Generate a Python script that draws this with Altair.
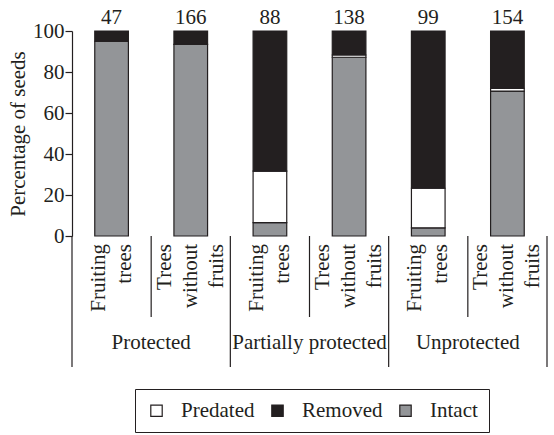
import altair as alt
import pandas as pd

# Bars: three protection levels x two tree types
groups = ["Protected", "Protected", "Partially protected", "Partially protected",
          "Unprotected", "Unprotected"]
tree_labels = ["Fruiting\ntrees", "Trees\nwithout\nfruits"] * 3
bar_keys = ["P-F", "P-T", "PP-F", "PP-T", "U-F", "U-T"]

# Percentage of seeds in each fate
intact = [95.0, 93.5, 6.5, 87.2, 4.0, 70.7]
predated = [0.0, 0.0, 25.1, 1.1, 19.3, 1.3]
removed = [5.0, 6.5, 68.4, 11.7, 76.7, 28.0]

# Number of seeds per bar
seed_counts = [47, 166, 88, 138, 99, 154]

status_names = ["Predated", "Removed", "Intact"]
status_colors = ["#ffffff", "#231f20", "#939598"]
stack_order = {"Intact": 0, "Predated": 1, "Removed": 2}

FONT = "Times New Roman"
INK = "#231f20"
W, H = 475, 205
LINE_H = 26

rows = []
for i, k in enumerate(bar_keys):
    for name, vals in (("Intact", intact), ("Predated", predated), ("Removed", removed)):
        rows.append({"key": k, "status": name, "pct": vals[i], "ord": stack_order[name]})
bars_df = pd.DataFrame(rows)

counts_df = pd.DataFrame({"key": bar_keys, "n": seed_counts, "top": [100] * len(bar_keys)})
labels_df = pd.DataFrame({"key": bar_keys, "label": tree_labels})
labels_df["lines"] = labels_df["label"].str.count("\n") + 1
group_df = pd.DataFrame({"key": ["P-T", "PP-T", "U-T"],
                         "group": ["Protected", "Partially protected", "Unprotected"]})
edge_left_df = pd.DataFrame({"key": ["P-F", "PP-F", "U-F"]})
edge_right_df = pd.DataFrame({"key": ["U-T"]})
inner_df = pd.DataFrame({"key": ["P-T", "PP-T", "U-T"]})

xscale = alt.Scale(domain=bar_keys, paddingInner=0, paddingOuter=0)


def xenc(band_pos=None, axis=None):
    kw = {}
    if band_pos is not None:
        kw["bandPosition"] = band_pos
    return alt.X("key:N", scale=xscale, axis=axis, **kw)


bars = alt.Chart(bars_df).mark_bar(
    width=alt.RelativeBandSize(0.425), stroke=INK, strokeWidth=1.2
).encode(
    x=xenc(axis=alt.Axis(labels=False, ticks=False, title=None, domain=True,
                         domainColor=INK, domainWidth=1.2)),
    y=alt.Y("pct:Q", stack="zero",
            scale=alt.Scale(domain=[0, 100], nice=False),
            axis=alt.Axis(title="Percentage of seeds", values=[0, 20, 40, 60, 80, 100],
                          grid=False, tickSize=7, tickColor=INK, tickWidth=1.2,
                          domainColor=INK, domainWidth=1.2, labelPadding=1,
                          labelFont=FONT, labelFontSize=21, labelColor=INK,
                          titleFont=FONT, titleFontSize=21,
                          titleFontWeight="normal", titleColor=INK, titlePadding=4)),
    color=alt.Color("status:N",
                    scale=alt.Scale(domain=status_names, range=status_colors),
                    legend=alt.Legend(orient="none", legendX=63, legendY=358,
                                      direction="horizontal", title=None,
                                      strokeColor=INK, padding=11,
                                      symbolType="square", symbolSize=130,
                                      symbolStrokeColor=INK, symbolStrokeWidth=1.2,
                                      labelFont=FONT, labelFontSize=21, labelColor=INK,
                                      labelOffset=14, columnPadding=12)),
    order=alt.Order("ord:Q"),
)

counts = alt.Chart(counts_df).mark_text(
    font=FONT, fontSize=21, baseline="alphabetic", dy=-7, color=INK
).encode(x=xenc(), y=alt.Y("top:Q"), text="n:Q")


def tree_layer(n_lines):
    # rotated multi-line labels, centred on the bar by shifting across the lines
    return alt.Chart(labels_df).transform_filter(
        alt.datum.lines == n_lines
    ).mark_text(
        font=FONT, fontSize=21, angle=270, align="right", baseline="middle",
        lineBreak="\n", lineHeight=LINE_H, dy=-(n_lines - 1) * LINE_H / 2, color=INK
    ).encode(x=xenc(), y=alt.value(H + 8), text="label:N")


group_text = alt.Chart(group_df).mark_text(
    font=FONT, fontSize=21, baseline="middle", color=INK
).encode(x=xenc(0), y=alt.value(H + 107), text="group:N")

edge_left = alt.Chart(edge_left_df).mark_rule(color=INK, strokeWidth=1.2).encode(
    x=xenc(0), y=alt.value(H), y2=alt.value(H + 131))
edge_right = alt.Chart(edge_right_df).mark_rule(color=INK, strokeWidth=1.2).encode(
    x=xenc(1), y=alt.value(H), y2=alt.value(H + 131))
inner = alt.Chart(inner_df).mark_rule(color=INK, strokeWidth=1.2).encode(
    x=xenc(0), y=alt.value(H), y2=alt.value(H + 81))

chart = alt.layer(
    bars, counts, tree_layer(2), tree_layer(3), group_text, edge_left, edge_right, inner
).properties(
    width=W, height=H,
    autosize=alt.AutoSizeParams(type="none"),
    padding={"left": 72, "top": 31, "right": 7, "bottom": 199},
).configure(
    font=FONT,
).configure_text(
    font=FONT,
).configure_view(
    stroke=None,
)

chart.save("out.html", embed_options={"renderer": "svg", "actions": False})
